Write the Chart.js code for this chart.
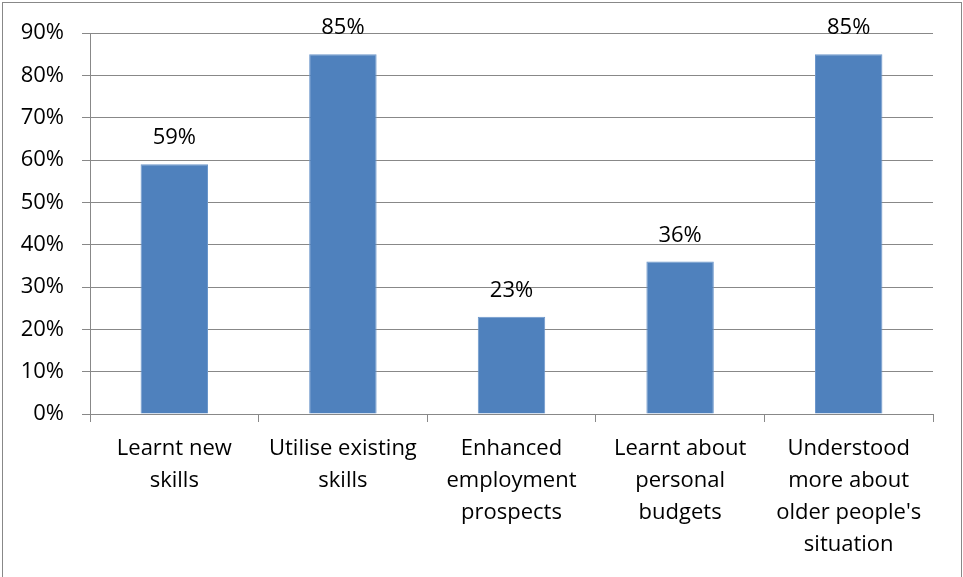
<!DOCTYPE html>
<html>
<head>
<meta charset="utf-8">
<script src="https://cdn.jsdelivr.net/npm/chart.js@4"></script>
<style>
  html, body { margin: 0; padding: 0; background: #fff; }
  #wrap { width: 963px; height: 577px; }
</style>
</head>
<body>
<div id="wrap"><canvas id="barChart" width="963" height="577"></canvas></div>
<script>
// categories (wrapped onto several lines) and percentages
const categories = [
  ["Learnt new", "skills"],
  ["Utilise existing", "skills"],
  ["Enhanced", "employment", "prospects"],
  ["Learnt about", "personal", "budgets"],
  ["Understood", "more about", "older people's", "situation"]
];
const percentages = [59, 85, 23, 36, 85];
const yTicks = [0, 10, 20, 30, 40, 50, 60, 70, 80, 90];

const FONT = { family: "'Open Sans', sans-serif", size: 22 };
const GRID = "#888888";

// value labels above each bar
const valueLabels = {
  id: "valueLabels",
  afterDatasetsDraw(chart) {
    const ctx = chart.ctx;
    const meta = chart.getDatasetMeta(0);
    ctx.save();
    ctx.font = FONT.size + "px " + FONT.family;
    ctx.fillStyle = "#000";
    ctx.textAlign = "center";
    ctx.textBaseline = "alphabetic";
    meta.data.forEach((bar, i) => {
      ctx.fillText(percentages[i] + "%", bar.x, bar.y - 20);
    });
    ctx.restore();
  }
};

// thin frame round the whole chart
const frame = {
  id: "frame",
  beforeDraw(chart) {
    const ctx = chart.ctx;
    ctx.save();
    ctx.fillStyle = "#fff";
    ctx.fillRect(0, 0, chart.width, chart.height);
    ctx.strokeStyle = GRID;
    ctx.lineWidth = 1;
    ctx.strokeRect(2.5, 2.5, chart.width - 4, chart.height + 10);
    ctx.restore();
  }
};

new Chart(document.getElementById("barChart"), {
  type: "bar",
  data: {
    labels: categories,
    datasets: [{
      data: percentages,
      backgroundColor: "#4F81BD",
      borderColor: "#6d97cb",
      borderWidth: 1,
      categoryPercentage: 1,
      barPercentage: 0.4
    }]
  },
  options: {
    responsive: false,
    animation: false,
    layout: { padding: { top: 33, right: 30, left: 0, bottom: 0 } },
    plugins: { legend: { display: false }, tooltip: { enabled: false } },
    scales: {
      x: {
        grid: {
          offset: true,
          drawOnChartArea: false,
          drawTicks: true,
          tickLength: 8,
          color: GRID
        },
        border: { color: GRID },
        ticks: {
          color: "#000",
          font: { ...FONT, lineHeight: 1.45 },
          padding: 11,
          maxRotation: 0,
          autoSkip: false
        },
        afterFit(scale) { scale.height = 577 - 414; }
      },
      y: {
        min: 0,
        max: 90,
        afterBuildTicks(scale) { scale.ticks = yTicks.map(v => ({ value: v })); },
        grid: { color: GRID, tickLength: 8 },
        border: { color: GRID },
        ticks: {
          color: "#000",
          font: FONT,
          padding: 18,
          callback: v => v + "%"
        },
        afterFit(scale) { scale.width = 90; }
      }
    }
  },
  plugins: [frame, valueLabels]
});
</script>
</body>
</html>
